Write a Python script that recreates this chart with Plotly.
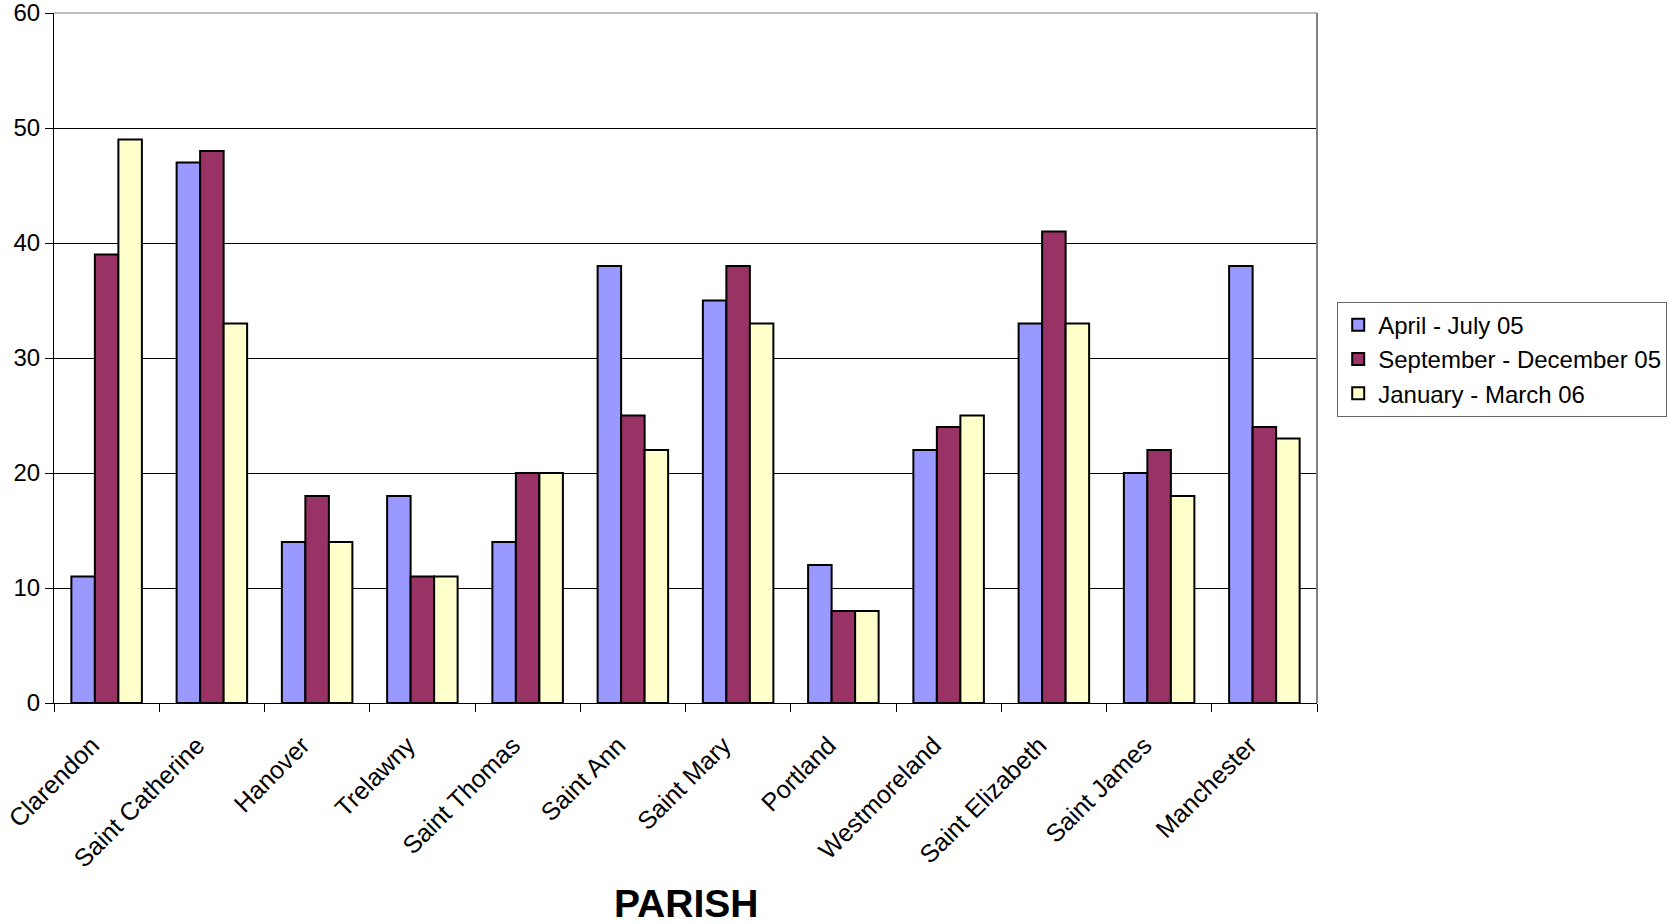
import plotly.graph_objects as go

parishes = ["Clarendon", "Saint Catherine", "Hanover", "Trelawny", "Saint Thomas",
            "Saint Ann", "Saint Mary", "Portland", "Westmoreland", "Saint Elizabeth",
            "Saint James", "Manchester"]
apr_jul_05 = [11, 47, 14, 18, 14, 38, 35, 12, 22, 33, 20, 38]
sep_dec_05 = [39, 48, 18, 11, 20, 25, 38, 8, 24, 41, 22, 24]
jan_mar_06 = [49, 33, 14, 11, 20, 22, 33, 8, 25, 33, 18, 23]

series = [
    ("April - July 05", apr_jul_05, "#9999FF"),
    ("September - December 05", sep_dec_05, "#993366"),
    ("January - March 06", jan_mar_06, "#FFFFCC"),
]

FONT = "Liberation Sans, Arial, sans-serif"
PAD = "\u00a0\u00a0\u00a0"  # nudges the rotated labels down-left of each tick

fig = go.Figure()
for name, vals, color in series:
    fig.add_trace(go.Bar(
        x=parishes, y=vals, name=name,
        marker=dict(color=color, line=dict(color="black", width=2)),
    ))

fig.update_layout(
    width=1671, height=924,
    margin=dict(l=54, r=354, t=13, b=221, autoexpand=False),
    paper_bgcolor="white", plot_bgcolor="white",
    barmode="group", bargap=0.33, bargroupgap=0,
    font=dict(family=FONT, color="black", size=25),
    legend=dict(
        x=1.016, y=0.5815, xanchor="left", yanchor="top",
        bordercolor="#666666", borderwidth=1, bgcolor="white",
        font=dict(size=24, family=FONT), tracegroupgap=0,
        itemwidth=30,
    ),
    showlegend=True,
)

fig.update_yaxes(
    range=[0, 60], dtick=10, tick0=0, automargin=False,
    showgrid=True, gridcolor="black", gridwidth=1,
    showline=True, linecolor="black", linewidth=1,
    ticks="outside", ticklen=8, tickcolor="black",
    tickfont=dict(size=24, family=FONT), zeroline=False,
    ticklabeloverflow="allow",
)
fig.update_xaxes(
    showline=True, linecolor="black", linewidth=1, automargin=False,
    ticks="outside", ticklen=8, tickcolor="black", tickson="boundaries",
    tickvals=parishes, ticktext=[p + PAD for p in parishes],
    tickangle=-45, tickfont=dict(size=25, family=FONT), ticklabelstandoff=2,
    ticklabeloverflow="allow", showgrid=False,
)

# Plot-area frame (top and right edges in gray)
fig.add_shape(type="line", xref="paper", yref="paper", x0=0, x1=1, y0=1, y1=1,
              line=dict(color="#808080", width=1))
fig.add_shape(type="line", xref="paper", yref="paper", x0=1, x1=1, y0=0, y1=1,
              line=dict(color="#808080", width=2))

fig.add_annotation(
    text="<b>PARISH</b>", xref="paper", yref="paper", x=0.5, y=-0.291,
    xanchor="center", yanchor="middle", showarrow=False,
    font=dict(size=39, family=FONT, color="black"),
)

fig.write_html("out.html")
